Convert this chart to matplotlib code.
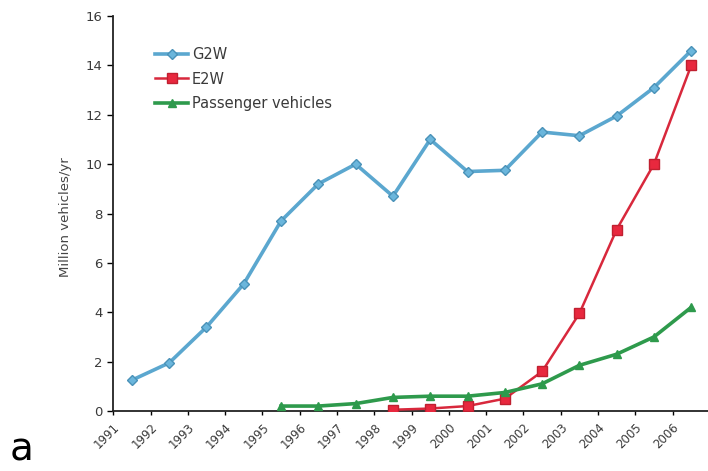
import matplotlib
matplotlib.use("Agg")
import matplotlib.pyplot as plt

# Annual sales, million vehicles per year
years = list(range(1991, 2007))
g2w_years = list(range(1991, 2007))
g2w = [1.25, 1.95, 3.4, 5.15, 7.7, 9.2, 10.0, 8.7, 11.0, 9.7, 9.75, 11.3, 11.15, 11.95, 13.1, 14.6]
e2w_years = list(range(1998, 2007))
e2w = [0.05, 0.1, 0.2, 0.5, 1.6, 3.95, 7.35, 10.0, 14.0]
pv_years = list(range(1995, 2007))
pv = [0.2, 0.2, 0.3, 0.55, 0.6, 0.6, 0.75, 1.1, 1.85, 2.3, 3.0, 4.2]

series_names = ["G2W", "E2W", "Passenger vehicles"]

plt.rcParams["font.family"] = ["DejaVu Sans"]

fig = plt.figure(figsize=(7.08, 4.71), dpi=100)
ax = fig.add_axes([0.16, 0.1274, 0.84, 0.8386])

def pos(yrs):
    # points sit in the middle of each year's interval
    return [y - years[0] + 0.5 for y in yrs]

ax.plot(pos(g2w_years), g2w, color="#5ba7cf", lw=2.6, marker="D", ms=5,
        mfc="#6bb6dc", mec="#4a92b8", label=series_names[0], zorder=3)
ax.plot(pos(e2w_years), e2w, color="#d8283c", lw=1.8, marker="s", ms=7,
        mfc="#e8283e", mec="#c02030", label=series_names[1], zorder=4)
ax.plot(pos(pv_years), pv, color="#2e9a4c", lw=2.6, marker="^", ms=6,
        mfc="#2e9a4c", mec="#2e9a4c", label=series_names[2], zorder=5)

ax.set_xlim(0, 15.95)
ax.set_ylim(0, 16)
ax.set_yticks(range(0, 17, 2))
ax.set_xticks(range(len(years)))
ax.set_xticklabels([str(y) for y in years], rotation=45, ha="right", va="top",
                   rotation_mode="anchor", fontsize=8.5, color="#3a3a3a")
ax.tick_params(axis="y", labelsize=9.5, labelcolor="#3a3a3a", length=4, width=1, pad=3.5)
ax.tick_params(axis="x", length=3, width=1, pad=4)

for side in ("top", "right"):
    ax.spines[side].set_visible(False)
for side in ("left", "bottom"):
    ax.spines[side].set_linewidth(1.3)
    ax.spines[side].set_color("#222222")

ax.set_ylabel("Million vehicles/yr", fontsize=9.5, color="#444444")
ax.yaxis.set_label_coords(-0.07, 0.49)

leg = ax.legend(loc="upper left", bbox_to_anchor=(0.07, 0.921), frameon=False,
                fontsize=10.5, handlelength=2.3, labelspacing=0.64,
                handletextpad=0.25, borderaxespad=0, borderpad=0)
for t in leg.get_texts():
    t.set_color("#3a3a3a")

fig.text(0.014, 0.022, "a", fontsize=28, color="black")

fig.savefig("out.png", dpi=100)
